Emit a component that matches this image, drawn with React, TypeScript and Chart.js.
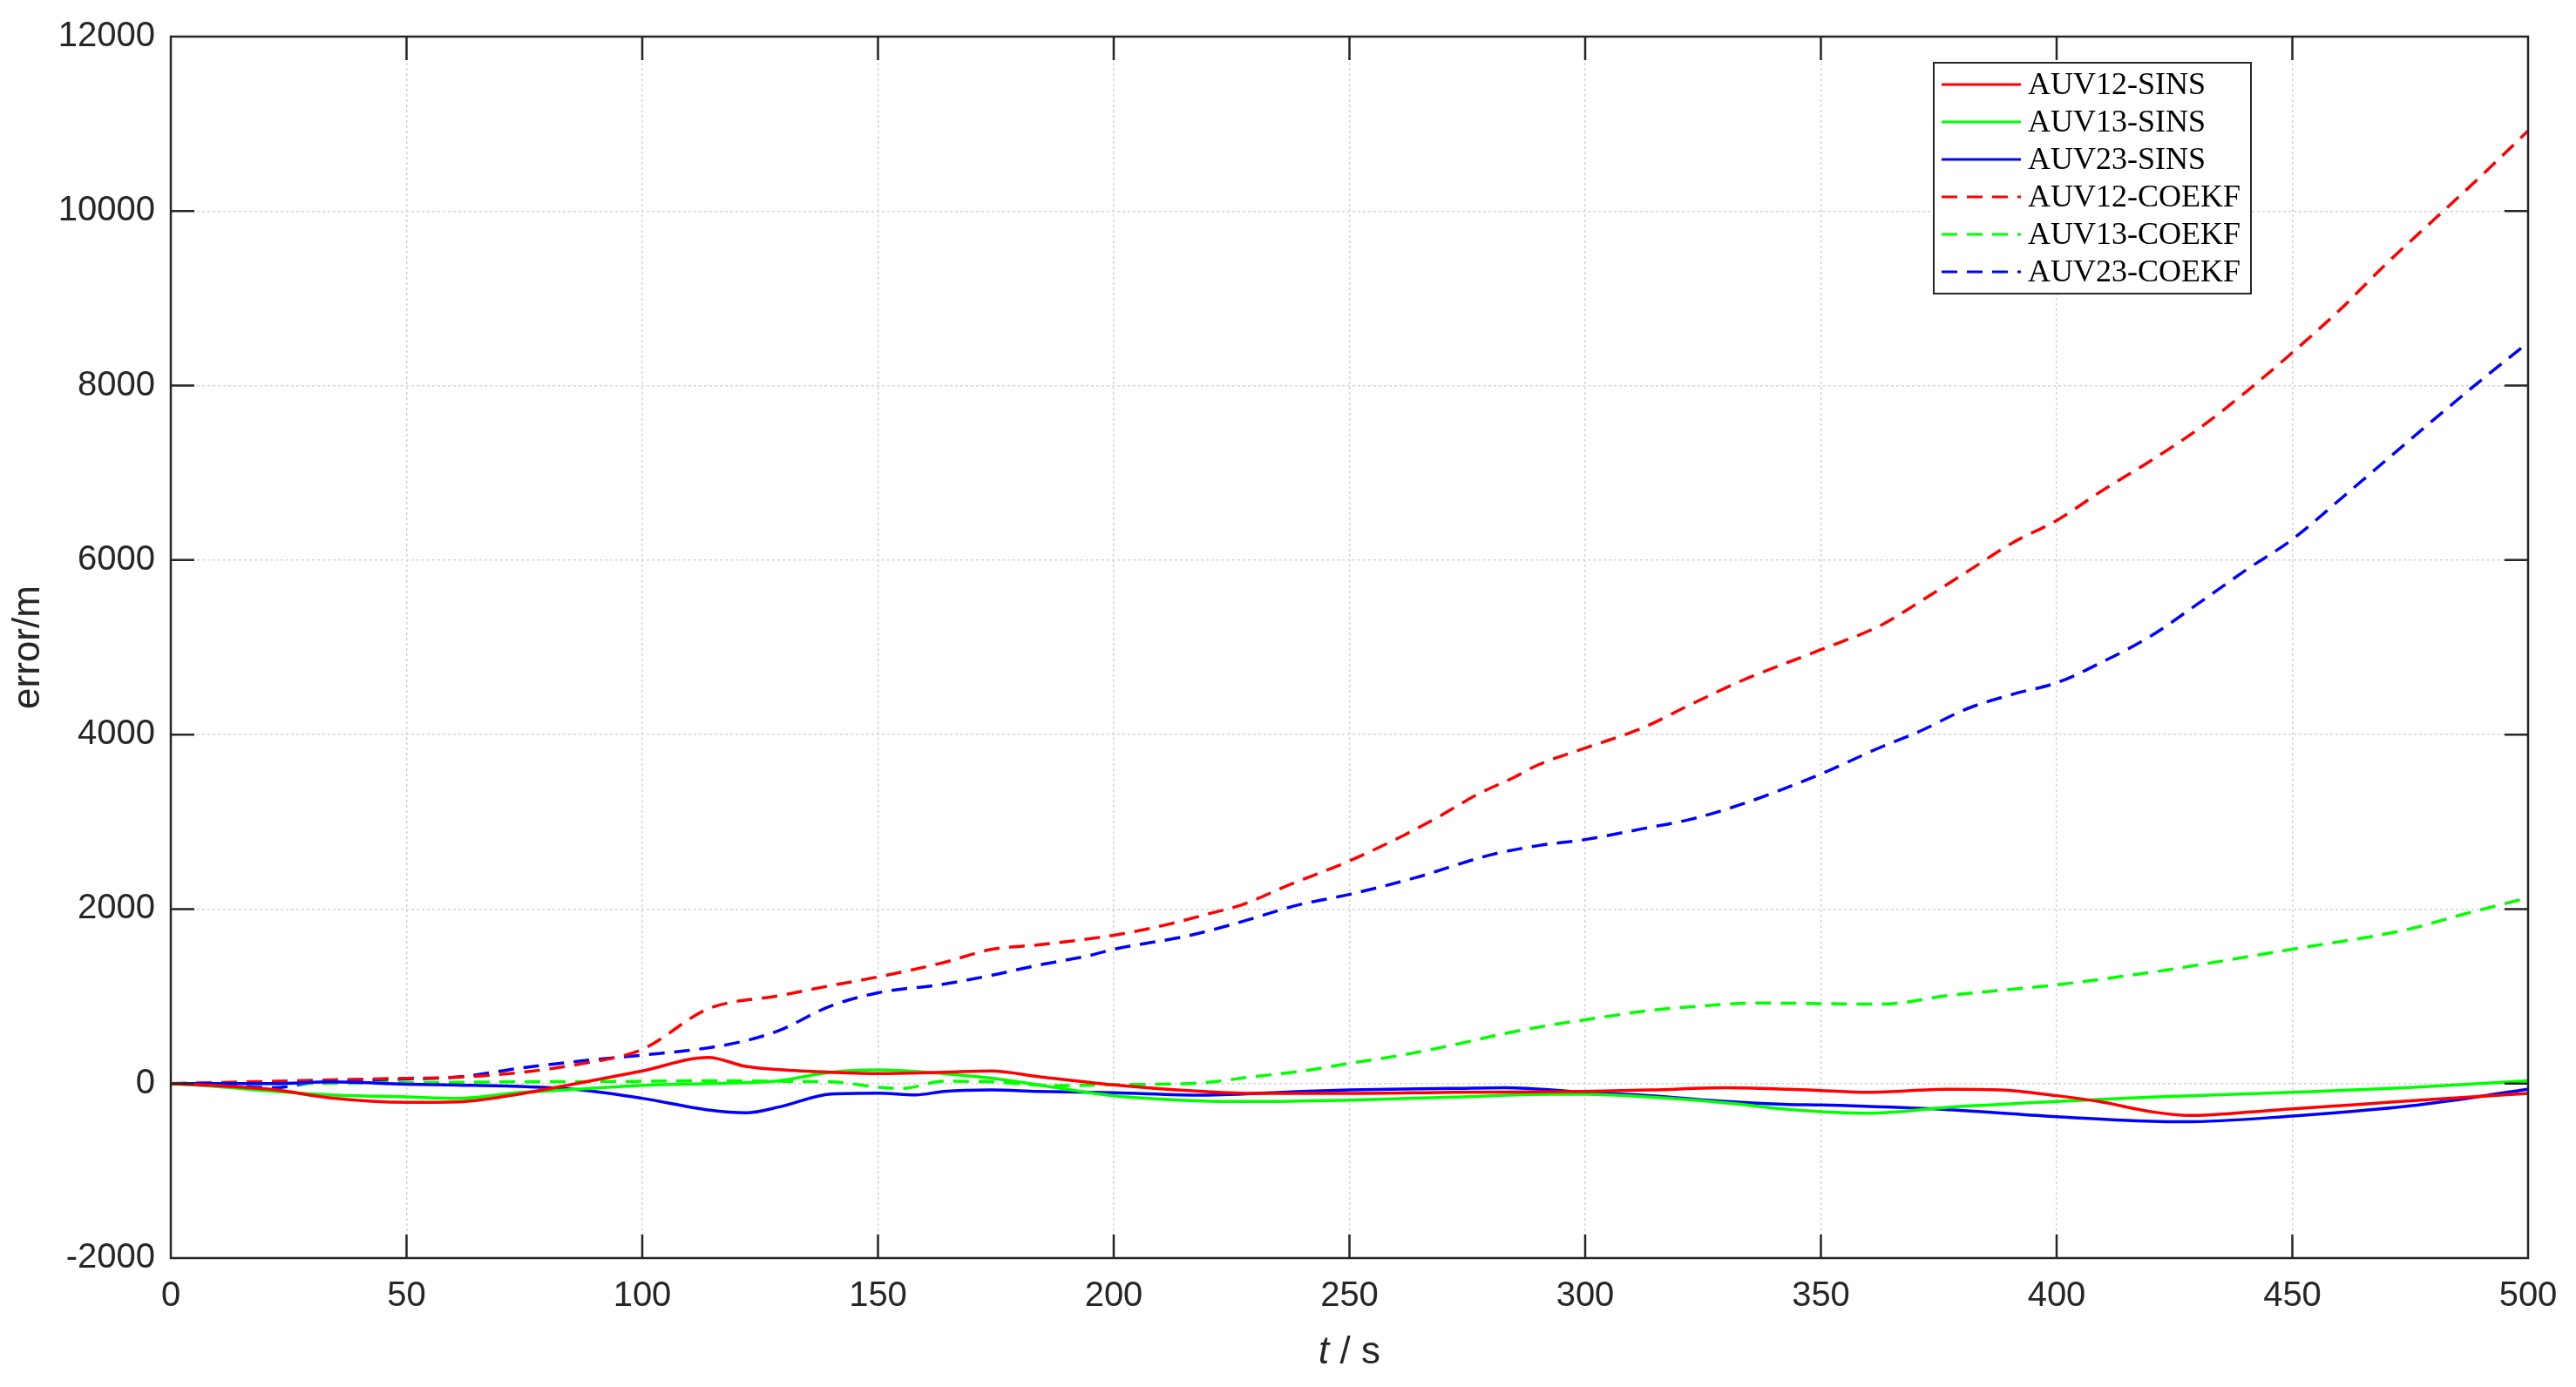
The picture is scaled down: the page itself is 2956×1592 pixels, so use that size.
import { useEffect, useRef } from "react";
import { Chart, registerables } from "chart.js";
import type { Plugin } from "chart.js";

Chart.register(...registerables);

// canvas size (matches the reference)
const W = 2956;
const H = 1592;

const xTickValues = [0, 50, 100, 150, 200, 250, 300, 350, 400, 450, 500];
const yTickValues = [-2000, 0, 2000, 4000, 6000, 8000, 10000, 12000];

// AUV12-SINS
const auv12SinsT = [0, 10, 22, 34, 50, 61, 74, 87, 100, 114, 122, 129, 140, 150, 164, 174, 184, 200, 219, 230, 250, 272, 300, 314, 330, 343, 350, 360, 377, 388, 400, 409, 420, 428, 442, 450, 464, 480, 500];
const auv12SinsV = [0, -25, -70, -165, -215, -210, -120, 10, 145, 300, 196, 160, 130, 115, 130, 145, 80, -15, -90, -113, -113, -100, -90, -73, -47, -65, -80, -100, -66, -73, -139, -206, -322, -365, -322, -289, -239, -179, -113];

// AUV13-SINS
const auv13SinsT = [0, 10, 22, 34, 50, 61, 74, 87, 100, 114, 129, 140, 150, 164, 174, 187, 200, 219, 230, 250, 272, 293, 300, 314, 330, 344, 360, 377, 400, 420, 450, 474, 500];
const auv13SinsV = [0, -35, -90, -130, -153, -169, -103, -63, -20, 0, 33, 130, 156, 113, 63, -40, -139, -199, -206, -189, -156, -123, -123, -156, -222, -299, -339, -272, -206, -156, -100, -47, 33];

// AUV23-SINS
const auv23SinsT = [0, 22, 34, 50, 61, 74, 87, 100, 114, 122, 129, 140, 150, 158, 164, 174, 184, 200, 219, 240, 250, 272, 283, 300, 314, 330, 343, 350, 377, 400, 415, 427, 450, 475, 500];
const auv23SinsV = [0, 0, 20, -7, -17, -33, -73, -169, -302, -335, -269, -120, -110, -130, -90, -73, -90, -106, -133, -90, -73, -56, -47, -100, -139, -206, -239, -246, -299, -379, -422, -438, -372, -256, -66];

// AUV12-COEKF
const auv12CoekfT = [0, 22, 34, 50, 61, 74, 87, 100, 114, 129, 140, 150, 164, 174, 184, 200, 211, 221, 227, 237, 250, 261, 269, 277, 285, 290, 300, 312, 322, 333, 350, 363, 371, 381, 391, 400, 410, 420, 430, 440, 450, 460, 470, 480, 490, 500];
const auv12CoekfV = [0, 26, 43, 60, 73, 126, 226, 392, 857, 1007, 1123, 1222, 1388, 1537, 1590, 1700, 1818, 1958, 2045, 2272, 2552, 2831, 3060, 3310, 3512, 3652, 3845, 4072, 4334, 4613, 4973, 5260, 5523, 5866, 6209, 6454, 6808, 7140, 7500, 7920, 8378, 8864, 9400, 9900, 10400, 10920];

// AUV13-COEKF
const auv13CoekfT = [0, 22, 50, 74, 100, 114, 129, 140, 150, 155, 164, 174, 187, 200, 219, 229, 240, 250, 261, 272, 283, 293, 300, 314, 325, 336, 350, 363, 377, 400, 420, 450, 475, 485, 500];
const auv13CoekfV = [0, 0, 10, 20, 26, 33, 26, 20, -40, -56, 26, 20, -23, -13, 10, 76, 143, 232, 325, 442, 574, 674, 731, 840, 890, 923, 917, 910, 1009, 1132, 1275, 1540, 1773, 1922, 2130];

// AUV23-COEKF
const auv23CoekfT = [0, 10, 22, 30, 34, 50, 61, 74, 87, 100, 114, 122, 129, 140, 150, 164, 174, 184, 195, 200, 216, 227, 239, 250, 264, 280, 290, 300, 312, 322, 333, 350, 362, 371, 381, 391, 400, 410, 420, 430, 440, 450, 460, 470, 480, 490, 500];
const auv23CoekfV = [0, -23, -47, 10, 26, 53, 76, 176, 259, 326, 410, 492, 608, 890, 1040, 1140, 1240, 1357, 1469, 1539, 1696, 1853, 2045, 2168, 2360, 2622, 2727, 2797, 2919, 3024, 3198, 3548, 3839, 4039, 4296, 4467, 4593, 4840, 5130, 5500, 5880, 6237, 6690, 7150, 7610, 8060, 8493];

const DASH = [18, 11];
const AXIS_COLOR = "#262626";
const SANS = '"Liberation Sans", Arial, sans-serif';
const SERIF = '"Liberation Serif", "Times New Roman", serif';

function series(label: string, t: number[], v: number[], color: string, dashed: boolean) {
  return {
    label,
    data: t.map((x, i) => ({ x, y: v[i] })),
    borderColor: color,
    backgroundColor: color,
    borderWidth: 3.5,
    borderDash: dashed ? DASH : [],
    pointRadius: 0,
    fill: false,
    cubicInterpolationMode: "monotone" as const,
  };
}

// box, inward ticks, legend and axis titles drawn MATLAB-style
const matlabDecor: Plugin<"line"> = {
  id: "matlabDecor",
  afterDatasetsDraw(chart) {
    const { ctx, chartArea: a, scales } = chart;
    const xs = scales.x;
    const ys = scales.y;
    const tick = 27;

    ctx.save();
    ctx.strokeStyle = AXIS_COLOR;
    ctx.lineWidth = 2.5;
    ctx.setLineDash([]);
    ctx.beginPath();
    ctx.rect(a.left, a.top, a.right - a.left, a.bottom - a.top);
    for (const v of xTickValues) {
      const px = xs.getPixelForValue(v);
      ctx.moveTo(px, a.bottom);
      ctx.lineTo(px, a.bottom - tick);
      ctx.moveTo(px, a.top);
      ctx.lineTo(px, a.top + tick);
    }
    for (const v of yTickValues) {
      const py = ys.getPixelForValue(v);
      ctx.moveTo(a.left, py);
      ctx.lineTo(a.left + tick, py);
      ctx.moveTo(a.right, py);
      ctx.lineTo(a.right - tick, py);
    }
    ctx.stroke();

    // legend
    const bx = a.right - 682;
    const by = a.top + 30;
    const bw = 364;
    const bh = 265;
    ctx.fillStyle = "#ffffff";
    ctx.fillRect(bx, by, bw, bh);
    ctx.strokeStyle = AXIS_COLOR;
    ctx.lineWidth = 2;
    ctx.strokeRect(bx, by, bw, bh);
    ctx.font = `36px ${SERIF}`;
    ctx.textAlign = "left";
    ctx.textBaseline = "middle";
    chart.data.datasets.forEach((ds: any, i) => {
      const cy = by + 25 + i * 43;
      ctx.strokeStyle = ds.borderColor;
      ctx.lineWidth = 3;
      ctx.setLineDash(ds.borderDash || []);
      ctx.beginPath();
      ctx.moveTo(bx + 9, cy);
      ctx.lineTo(bx + 100, cy);
      ctx.stroke();
      ctx.setLineDash([]);
      ctx.fillStyle = "#000000";
      ctx.fillText(ds.label, bx + 108, cy + 2);
    });

    // axis titles
    ctx.fillStyle = AXIS_COLOR;
    ctx.textBaseline = "alphabetic";
    ctx.font = `italic 44px ${SANS}`;
    const wT = ctx.measureText("t").width;
    ctx.font = `44px ${SANS}`;
    const wR = ctx.measureText(" / s").width;
    const x0 = (a.left + a.right) / 2 - (wT + wR) / 2;
    ctx.font = `italic 44px ${SANS}`;
    ctx.fillText("t", x0, 1565);
    ctx.font = `44px ${SANS}`;
    ctx.fillText(" / s", x0 + wT, 1565);

    ctx.translate(45, (a.top + a.bottom) / 2);
    ctx.rotate(-Math.PI / 2);
    ctx.textAlign = "center";
    ctx.fillText("error/m", 0, 0);
    ctx.restore();
  },
};

export default function App() {
  const canvasRef = useRef<HTMLCanvasElement | null>(null);
  const chartRef = useRef<Chart<"line"> | null>(null);

  useEffect(() => {
    if (!canvasRef.current) return;
    if (chartRef.current) chartRef.current.destroy();

    const gridOpts = { color: "#d4d4d4", lineWidth: 1.5, drawTicks: false };
    const borderOpts = { display: false, dash: [3, 3] };

    chartRef.current = new Chart(canvasRef.current, {
      type: "line",
      data: {
        datasets: [
          series("AUV12-SINS", auv12SinsT, auv12SinsV, "#ff0000", false),
          series("AUV13-SINS", auv13SinsT, auv13SinsV, "#00ff00", false),
          series("AUV23-SINS", auv23SinsT, auv23SinsV, "#0000ff", false),
          series("AUV12-COEKF", auv12CoekfT, auv12CoekfV, "#ff0000", true),
          series("AUV13-COEKF", auv13CoekfT, auv13CoekfV, "#00ff00", true),
          series("AUV23-COEKF", auv23CoekfT, auv23CoekfV, "#0000ff", true),
        ],
      },
      options: {
        responsive: false,
        animation: false,
        layout: { padding: { top: 38, right: 55, left: 0, bottom: 0 } },
        plugins: { legend: { display: false }, tooltip: { enabled: false } },
        scales: {
          x: {
            type: "linear",
            min: 0,
            max: 500,
            grid: gridOpts,
            border: borderOpts,
            ticks: {
              stepSize: 50,
              padding: 20,
              color: AXIS_COLOR,
              font: { family: SANS, size: 40 },
              maxRotation: 0,
              callback: (v) => String(v),
            },
            afterFit: (s) => {
              s.height = H - 1444;
            },
          },
          y: {
            type: "linear",
            min: -2000,
            max: 12000,
            grid: gridOpts,
            border: borderOpts,
            ticks: {
              stepSize: 2000,
              padding: 18,
              color: AXIS_COLOR,
              font: { family: SANS, size: 40 },
              callback: (v) => String(v),
            },
            afterFit: (s) => {
              s.width = 196;
            },
          },
        },
      },
      plugins: [matlabDecor],
    });

    return () => chartRef.current?.destroy();
  }, []);

  return (
    <div style={{ position: "fixed", left: 0, top: 0, width: W, height: H, background: "#fff" }}>
      <canvas ref={canvasRef} width={W} height={H} style={{ display: "block" }} />
    </div>
  );
}
